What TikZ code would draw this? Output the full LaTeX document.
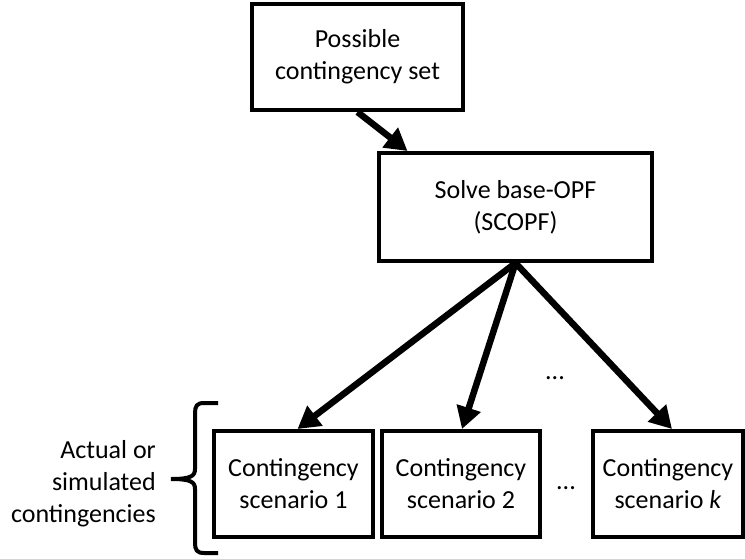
\documentclass[tikz,border=0pt]{standalone}
\usepackage{fontspec}
\setmainfont{Carlito}
\usetikzlibrary{arrows.meta}
\begin{document}
\begin{tikzpicture}[x=1pt,y=-1pt,
  box/.style={draw,line width=4pt,inner sep=0pt,align=center,
    font=\fontsize{26}{32}\selectfont},
  flow/.style={line width=6.5pt,-{Triangle[length=22pt,width=24pt]}},
  dots/.style={font=\fontsize{26}{32}\selectfont}]
\useasboundingbox (0,0) rectangle (745,558);
\node[box,minimum width=211pt,minimum height=106pt] (pcs) at (357.5,57) {Possible\\contingency set};
\node[box,minimum width=273pt,minimum height=108pt] (opf) at (515.5,207) {Solve base-OPF\\(SCOPF)};
\node[box,minimum width=159pt,minimum height=106pt] (c1) at (293.5,484) {Contingency\\scenario 1};
\node[box,minimum width=158pt,minimum height=106pt] (c2) at (461,484) {Contingency\\scenario 2};
\node[box,minimum width=150pt,minimum height=106pt] (ck) at (668,484) {Contingency\\scenario \textit{k}};
\node[dots] (d1) at (555,378) {...};
\node[dots] (d2) at (566,488) {...};
\node[font=\fontsize{26}{32}\selectfont,align=right,anchor=east,inner sep=0pt] (lab) at (156,484) {Actual or\\simulated\\contingencies};
\draw[flow] (pcs.south) -- ([xshift=-108pt]opf.north);
\draw[flow] (opf.south) -- ([xshift=4pt]c1.north);
\draw[flow] (opf.south) -- ([xshift=1pt]c2.north);
\draw[flow] (opf.south) -- ([xshift=4pt]ck.north);
\draw[line width=4pt] (218,403) -- (204,403) .. controls (197,403) and (195,406) .. (195,413)
  -- (195,469) .. controls (195,476) and (191,479) .. (171,479)
  .. controls (191,479) and (195,482) .. (195,489)
  -- (195,543) .. controls (195,550) and (197,553) .. (204,553) -- (218,553);
\end{tikzpicture}
\end{document}
